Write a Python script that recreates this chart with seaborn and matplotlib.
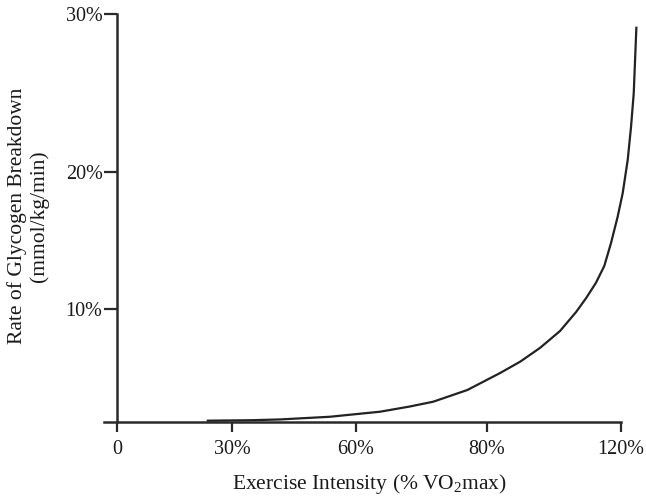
import numpy as np
import pandas as pd
import matplotlib
matplotlib.use("Agg")
import matplotlib.pyplot as plt
import seaborn as sns

# ---- data ----
intensity = [23.4, 34.4, 41.6, 53.7, 63.7, 68.2, 71.8, 77.0, 83.9, 89.9,
             95.8, 101.8, 106.6, 109.6, 112.5, 115.0, 117.0, 119.0, 120.5,
             122.0, 123.0, 123.8, 124.2, 124.6]
breakdown = [0.09, 0.13, 0.20, 0.44, 0.89, 1.35, 1.78, 2.82, 4.33, 5.34,
             6.56, 8.07, 9.76, 10.82, 11.92, 13.15, 14.81, 16.74, 18.45,
             20.76, 22.87, 24.98, 27.09, 29.20]
x_ticks = [0, 30, 60, 80, 120]
x_tick_labels = ["0", "30%", "60%", "80%", "120%"]
y_ticks = [10, 20, 30]
y_tick_labels = ["10%", "20%", "30%"]

# The original axes are drawn with uneven tick spacing; reproduce via piecewise scales
x_anchor_pos = [117, 232, 356, 487, 621]
y_anchor_vals = [0, 10, 20, 30]
y_anchor_pos = [76.3, 188.7, 326, 484]


def piecewise(vals, pos):
    vals = np.asarray(vals, float)
    pos = np.asarray(pos, float)
    s0 = (pos[1] - pos[0]) / (vals[1] - vals[0])
    s1 = (pos[-1] - pos[-2]) / (vals[-1] - vals[-2])

    def fwd(v):
        v = np.asarray(v, float)
        out = np.interp(v, vals, pos)
        out = np.where(v < vals[0], pos[0] + (v - vals[0]) * s0, out)
        out = np.where(v > vals[-1], pos[-1] + (v - vals[-1]) * s1, out)
        return out

    def inv(p):
        p = np.asarray(p, float)
        out = np.interp(p, pos, vals)
        out = np.where(p < pos[0], vals[0] + (p - pos[0]) / s0, out)
        out = np.where(p > pos[-1], vals[-1] + (p - pos[-1]) / s1, out)
        return out
    return fwd, inv


xf, xi = piecewise(x_ticks, x_anchor_pos)
yf, yi = piecewise(y_anchor_vals, y_anchor_pos)

sns.set_style("white")
plt.rcParams["font.family"] = ["Liberation Serif", "DejaVu Serif"]
plt.rcParams["mathtext.fontset"] = "custom"
plt.rcParams["mathtext.rm"] = "Liberation Serif"
plt.rcParams["mathtext.it"] = "Liberation Serif:italic"

W, H = 646, 498
fig = plt.figure(figsize=(W / 100, H / 100), dpi=100)
ax_left, ax_right = 104, 640
ax = fig.add_axes([ax_left / W, y_anchor_pos[0] / H,
                   (ax_right - ax_left) / W, (y_anchor_pos[-1] - y_anchor_pos[0]) / H])
ax.set_xscale("function", functions=(xf, xi))
ax.set_yscale("function", functions=(yf, yi))

df = pd.DataFrame({"intensity": intensity, "breakdown": breakdown})
sns.lineplot(data=df, x="intensity", y="breakdown", sort=False, estimator=None,
             color="#222222", linewidth=1.6, ax=ax, clip_on=False,
             solid_joinstyle="round", solid_capstyle="butt")

xmin = float(xi(ax_left))
xmax = float(xi(ax_right))
ax.set_xlim(xmin, xmax)
ax.set_ylim(0, 30)

ax.spines["top"].set_visible(False)
ax.spines["right"].set_visible(False)
ax.spines["left"].set_position(("data", 0))
ax.spines["left"].set_bounds(0, 30)
ax.spines["bottom"].set_bounds(xmin, 120)
for s in ("left", "bottom"):
    ax.spines[s].set_color("#2a2a2a")
    ax.spines[s].set_linewidth(1.8)

ax.set_xticks(x_ticks)
ax.set_xticklabels(x_tick_labels)
ax.set_yticks(y_ticks)
ax.set_yticklabels(y_tick_labels)
ax.xaxis.set_minor_locator(matplotlib.ticker.NullLocator())
ax.yaxis.set_minor_locator(matplotlib.ticker.NullLocator())
ax.tick_params(axis="x", direction="out", length=7, width=1.6, color="#2a2a2a",
               labelsize=14.5, labelcolor="#1a1a1a", pad=6, bottom=True)
ax.tick_params(axis="y", direction="out", length=9.4, width=1.6, color="#2a2a2a",
               labelsize=14.5, labelcolor="#1a1a1a", pad=1, left=True)
ax.set_xlabel("")
ax.set_ylabel("")
ax.grid(False)

fig.text(369 / W, 1 - 484 / H, "Exercise Intensity (% VO$_2$max)", ha="center",
         va="center", fontsize=15.5, color="#1a1a1a")
fig.text(28 / W, 1 - 216 / H, "Rate of Glycogen Breakdown\n(mmol/kg/min)",
         ha="center", va="center", rotation=90, multialignment="center",
         fontsize=15.5, color="#1a1a1a", linespacing=1.2)

fig.savefig("out.png", dpi=100)
